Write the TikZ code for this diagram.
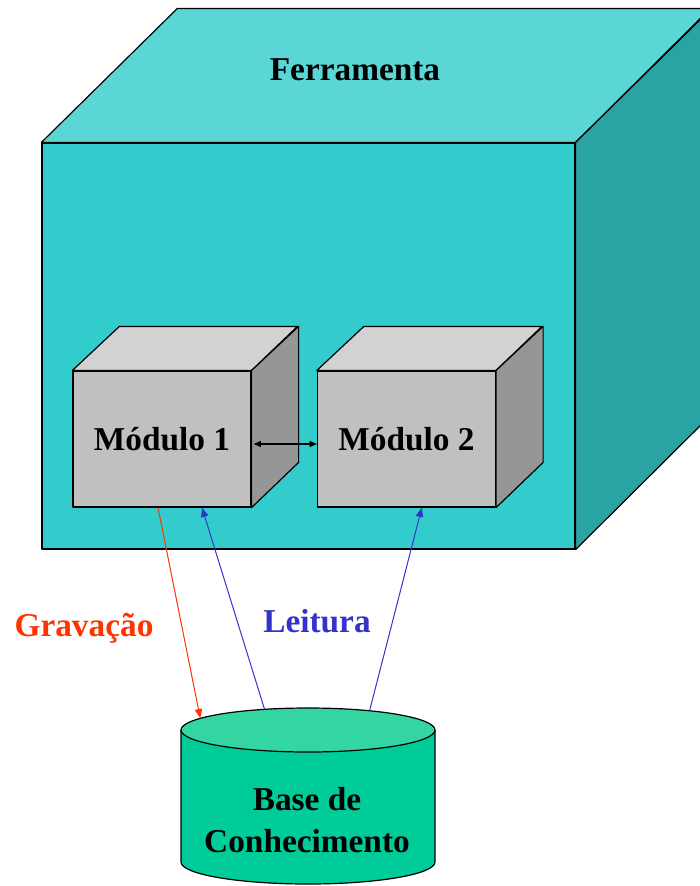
\documentclass[tikz,border=0pt]{standalone}
\usepackage{fontspec}
\setmainfont{Liberation Serif}
\usepackage{xcolor}
\usepackage{tikz}
\usetikzlibrary{arrows.meta,calc}

\definecolor{cubeFront}{RGB}{51,204,204}
\definecolor{cubeTop}{RGB}{90,214,214}
\definecolor{cubeSide}{RGB}{41,163,163}
\definecolor{modFront}{RGB}{192,192,192}
\definecolor{modTop}{RGB}{210,210,210}
\definecolor{modSide}{RGB}{150,150,150}
\definecolor{baseBody}{RGB}{0,204,153}
\definecolor{baseTop}{RGB}{51,214,163}
\definecolor{writeRed}{RGB}{255,51,0}
\definecolor{readBlue}{RGB}{51,51,204}

\tikzset{
  face/.style={draw=black, line width=0.9pt, line join=round},
  lbl/.style={font=\fontsize{25}{32}\selectfont\bfseries, inner sep=0.75pt},
  tip/.style={-{Triangle[length=7pt,width=5.5pt]}, line width=0.75pt},
}

\begin{document}
\begin{tikzpicture}[x=0.75pt,y=0.75pt,yscale=-1,xscale=1]
\useasboundingbox (0,0) rectangle (700,886);
\clip (0,0) rectangle (700,886);

%Shape: Cube [id:ferramenta]
\node[face, fill=cubeFront, minimum width=399.75pt, minimum height=304.5pt, inner sep=0pt] (tool) at (308.5,346) {};
\draw[face, fill=cubeTop] (tool.north west) -- ++(136,-134) -- ++(533,0) -- (tool.north east) -- cycle;
\draw[face, fill=cubeSide] (tool.north east) -- ++(136,-134) -- ++(0,406) -- (tool.south east) -- cycle;

%Shape: Cube [id:modulo1]
\node[face, lbl, fill=modFront, minimum width=133.5pt, minimum height=102pt] (m1) at (162,439) {Módulo 1};
\draw[face, fill=modTop] (m1.north west) -- ++(47,-44) -- ++(178,0) -- (m1.north east) -- cycle;
\draw[face, fill=modSide] (m1.north east) -- ++(47,-44) -- ++(0,136) -- (m1.south east) -- cycle;

%Shape: Cube [id:modulo2]
\node[face, lbl, fill=modFront, minimum width=133.5pt, minimum height=102pt] (m2) at (406.5,439) {Módulo 2};
\draw[face, fill=modTop] (m2.north west) -- ++(47,-44) -- ++(178,0) -- (m2.north east) -- cycle;
\draw[face, fill=modSide] (m2.north east) -- ++(47,-44) -- ++(0,136) -- (m2.south east) -- cycle;

%Shape: Can [id:base]
\coordinate (kb) at (308,730);
\draw[face, fill=baseBody] (181,730) -- (181,862) arc[start angle=180, end angle=0, x radius=127, y radius=22] -- (435,730) -- cycle;
\draw[face, fill=baseTop] (kb) ellipse[x radius=127, y radius=22];

%Straight Lines [id:troca]
\draw[{Triangle[length=5.5pt,width=4.5pt]}-{Triangle[length=5.5pt,width=4.5pt]}, line width=0.9pt] ([xshift=1.5pt,yshift=3.75pt]m1.east) -- ([yshift=3.75pt]m2.west);
%Straight Lines [id:gravacao]
\draw[tip, color=writeRed] ([xshift=-3pt]m1.south) -- ($(kb)+(-148:127 and 22)$);
%Straight Lines [id:leitura1]
\draw[tip, color=readBlue] ($(kb)+(-110:127 and 22)$) -- ([xshift=30pt]m1.south);
%Straight Lines [id:leitura2]
\draw[tip, color=readBlue] ($(kb)+(-61:127 and 22)$) -- ([xshift=11.5pt]m2.south);

% Text Node
\node[lbl] (ferr) at (355,70) {Ferramenta};
% Text Node
\node[lbl, text=writeRed] (grav) at (84,628) {Gravação};
% Text Node
\node[lbl, text=readBlue] (leit) at (317,621) {Leitura};
% Text Node
\node[lbl, align=center] (kbtext) at (307,820) {Base de\\Conhecimento};
\end{tikzpicture}
\end{document}
